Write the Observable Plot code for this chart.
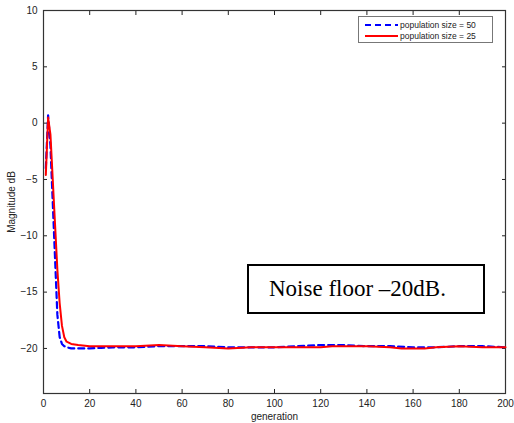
<!DOCTYPE html>
<html>
<head>
<meta charset="utf-8">
<script src="https://cdn.jsdelivr.net/npm/d3@7"></script>
<script src="https://cdn.jsdelivr.net/npm/@observablehq/plot@0.6"></script>
<style>
  html, body { margin: 0; padding: 0; background: #fff; }
  #wrap { position: relative; width: 514px; height: 423px; }
  #note {
    position: absolute; left: 247px; top: 264px; width: 238px; height: 50px;
    border: 2px solid #000; box-sizing: border-box; background: #fff;
    font-family: "Liberation Serif", "Times New Roman", serif; font-size: 23px;
    display: flex; align-items: center; justify-content: flex-start; padding-left: 20px; color: #000;
  }
  #legend {
    position: absolute; left: 358px; top: 16px; width: 135px; height: 27px;
    border: 1px solid #777; box-sizing: border-box; background: #fff;
    font-family: "Liberation Sans", Arial, sans-serif; font-size: 8.5px; color: #222;
  }
  .row { position: absolute; left: 6px; display: flex; align-items: center; }
  .row svg { margin-right: 2px; }
</style>
</head>
<body>
<div id="wrap">
  <div id="chart"></div>
  <div id="legend">
    <div class="row" style="top:3px"><svg width="33" height="8"><line x1="0" x2="33" y1="4" y2="4" stroke="#0000ff" stroke-width="2" stroke-dasharray="6,4"/></svg>population size = 50</div>
    <div class="row" style="top:14px"><svg width="33" height="8"><line x1="0" x2="33" y1="4" y2="4" stroke="#ff0000" stroke-width="2"/></svg>population size = 25</div>
  </div>
  <div id="note">Noise floor –20dB.</div>
</div>
<script>
const generations50 = [1,2,3,4,5,6,7,8,9,10,12,15,20,25,30,40,50,60,70,80,90,100,110,120,130,140,150,160,170,180,190,200];
const magnitude50 = [-4.0,0.7,-2,-7,-12,-17,-19.0,-19.6,-19.8,-19.9,-20.0,-20.0,-20.0,-19.95,-19.9,-19.9,-19.8,-19.8,-19.8,-19.9,-19.9,-19.9,-19.8,-19.7,-19.7,-19.8,-19.8,-19.9,-19.9,-19.8,-19.8,-19.9];
const generations25 = [1,2,3,4,5,6,7,8,9,10,12,15,20,30,40,50,60,70,80,90,100,110,120,125,140,150,155,165,170,180,190,200];
const magnitude25 = [-4.6,0.5,-1,-5,-9,-13,-16,-18,-19,-19.4,-19.6,-19.7,-19.8,-19.8,-19.8,-19.7,-19.8,-19.9,-20.0,-19.9,-19.9,-19.9,-19.9,-19.8,-19.8,-19.9,-20.0,-20.0,-19.9,-19.8,-19.9,-19.9];
const xTicks = [0,20,40,60,80,100,120,140,160,180,200];
const yTicks = [10,5,0,-5,-10,-15,-20];

const s50 = generations50.map((g, i) => ({g, m: magnitude50[i]}));
const s25 = generations25.map((g, i) => ({g, m: magnitude25[i]}));

const plot = Plot.plot({
  width: 514, height: 423,
  marginLeft: 43, marginRight: 9, marginTop: 10, marginBottom: 30,
  style: {fontFamily: "'Liberation Sans', Arial, sans-serif", fontSize: "10px", color: "#222", background: "#fff"},
  x: {domain: [0, 200]},
  y: {domain: [-24, 10]},
  marks: [
    Plot.axisX({anchor: "bottom", ticks: xTicks, tickSize: -4, tickPadding: 10, label: "generation", labelAnchor: "center", labelArrow: "none", labelOffset: 26, tickFormat: d => String(d)}),
    Plot.axisX({anchor: "top", ticks: xTicks, tickSize: -4, tickFormat: () => "", label: null}),
    Plot.axisY({anchor: "left", ticks: yTicks, tickSize: -4, tickPadding: 10, label: "Magnitude dB", labelAnchor: "center", labelArrow: "none", labelOffset: 36, tickFormat: d => d < 0 ? "\u2212" + Math.abs(d) : String(d)}),
    Plot.axisY({anchor: "right", ticks: yTicks, tickSize: -4, tickFormat: () => "", label: null}),
    Plot.frame({stroke: "#333", strokeWidth: 1.2}),
    Plot.line(s50, {x: "g", y: "m", stroke: "#0000ff", strokeWidth: 2.2, strokeDasharray: "6,4", curve: "linear"}),
    Plot.line(s25, {x: "g", y: "m", stroke: "#ff0000", strokeWidth: 2, curve: "linear"})
  ]
});
document.getElementById("chart").appendChild(plot);
</script>
</body>
</html>
